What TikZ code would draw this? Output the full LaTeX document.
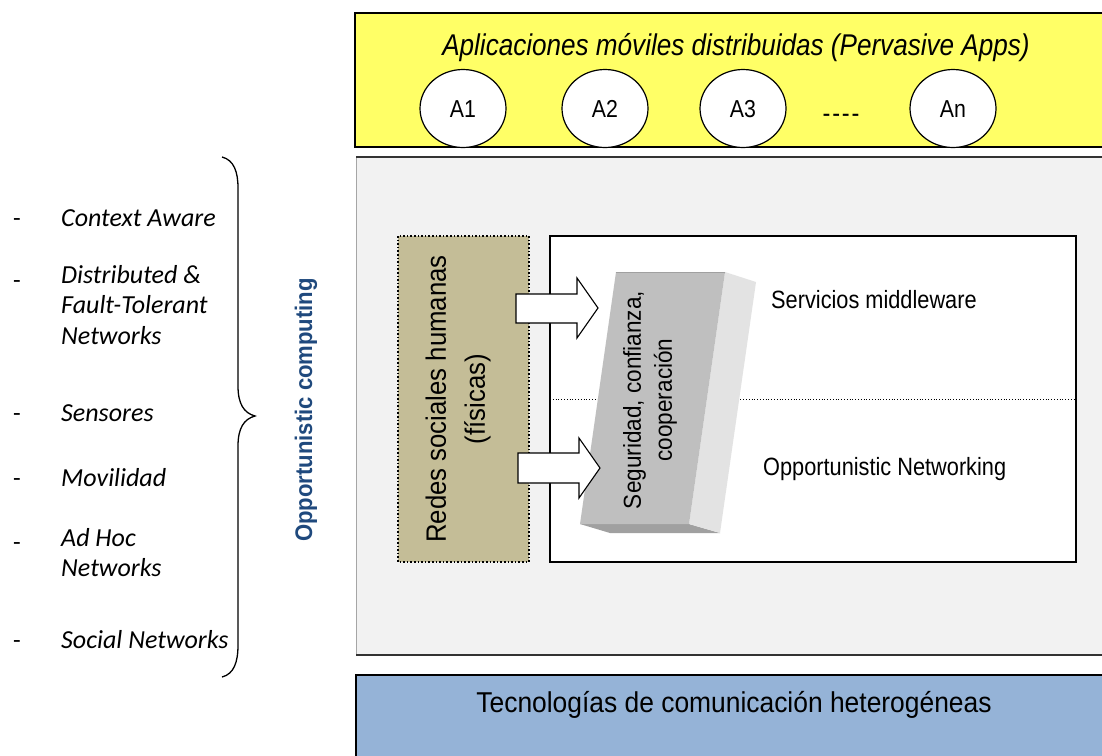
\documentclass[tikz,border=0pt]{standalone}
\usepackage{fontspec}
\setmainfont{Liberation Sans}
\newfontfamily\calfont{Carlito}
\newfontfamily\nsf[FakeStretch=0.87]{Liberation Sans}
\newfontfamily\msf[FakeStretch=0.92]{Liberation Sans}
\definecolor{appyellow}{RGB}{255,255,102}
\definecolor{panelgray}{RGB}{242,242,242}
\definecolor{socialtan}{RGB}{196,189,151}
\definecolor{techblue}{RGB}{149,179,215}
\definecolor{oppblue}{RGB}{31,73,125}
\definecolor{blockfront}{RGB}{191,191,191}
\definecolor{blockside}{RGB}{227,227,227}
\definecolor{blockbottom}{RGB}{160,160,160}
\usetikzlibrary{shapes.geometric}
\tikzset{
  app/.style={draw=black, line width=1.2pt, fill=white, ellipse, minimum width=86pt, minimum height=78pt, inner sep=0pt, text height=17.5pt, text depth=0pt, font=\nsf\fontsize{24.5}{26}\selectfont},
  listitem/.style={anchor=base west, inner sep=0pt, font=\calfont\itshape\fontsize{26}{30.5}\selectfont, align=left},
  listdash/.style={anchor=base west, inner sep=0pt, font=\calfont\fontsize{25}{30}\selectfont},
  label/.style={inner sep=0pt, font=\nsf\fontsize{25}{28}\selectfont},
  blockarrow/.style={draw=black, line width=1.1pt, fill=white, line join=miter},
}
\begin{document}
\begin{tikzpicture}[x=1pt, y=-1pt]
\useasboundingbox (0,0) rectangle (1102,755);
\clip (0,0) rectangle (1102,755);

% top layer: distributed mobile applications
\draw[fill=appyellow, line width=1.3pt] (355,13) rectangle (1115,147);
\node[inner sep=0pt, anchor=base, font=\nsf\itshape\fontsize{30}{34}\selectfont] (apptitle) at (736,55) {Aplicaciones móviles distribuidas (Pervasive Apps)};
\node[app] (a1) at (463,108.5) {A1};
\node[app] (a2) at (605,108.5) {A2};
\node[app] (a3) at (743,108.5) {A3};
\node[inner sep=0pt, anchor=base, font=\nsf\fontsize{27}{28}\selectfont] (adots) at (841,122) {-\kern1.8pt-\kern1.8pt-\kern1.8pt-};
\node[app] (an) at (953,108.5) {An};

% middle panel
\fill[panelgray] (356,157) rectangle (1115,655);
\draw[gray!70, line width=0.6pt] (356,157) -- (356,655);
\draw[black!80, line width=1.4pt] (356,157) -- (1115,157);
\draw[black!80, line width=1.4pt] (356,655) -- (1115,655);

% middleware / networking box
\draw[fill=white, line width=1.1pt] (550,236) rectangle (1076,562);
\draw[dotted, line width=0.8pt] (550,399) -- (1076,399);
\node[label, anchor=base west] (middleware) at (771,308) {Servicios middleware};
\node[label, anchor=base west] (oppnet) at (763,475) {Opportunistic Networking};

% human social networks
\draw[fill=socialtan, dotted, line width=1.6pt] (398,236) rectangle (529,562);
\node[inner sep=0pt, rotate=90, align=center, font=\msf\fontsize{28}{39}\selectfont] (redes) at (458,399) {Redes sociales humanas\\(físicas)};

% security / trust block
\fill[blockbottom] (580,524) -- (689,524) -- (720,533) -- (610,533) -- cycle;
\fill[blockside] (725,272) -- (756,282) -- (720,533) -- (689,524) -- cycle;
\fill[blockfront] (616,272) -- (725,272) -- (689,524) -- (580,524) -- cycle;
\draw[blockbottom, line width=1pt] (616,272) -- (725,272);
\node[inner sep=0pt, rotate=90, align=center, font=\msf\fontsize{24.5}{31}\selectfont] (security) at (650,400) {Seguridad, confianza,\\cooperación};

% block arrows into the middleware layers
\draw[blockarrow] (516,294) -- (577,294) -- (577,278) -- (598,308) -- (577,338) -- (577,323) -- (516,323) -- cycle;
\draw[blockarrow] (518,453) -- (579,453) -- (579,438) -- (600,468) -- (579,498) -- (579,483) -- (518,483) -- cycle;

% bottom layer
\draw[fill=techblue, line width=1.3pt] (356,675) rectangle (1115,770);
\node[inner sep=0pt, anchor=base, font=\msf\fontsize{28.7}{32}\selectfont] (tech) at (734,712) {Tecnologías de comunicación heterogéneas};

% enabling topics
\node[listdash] (d1) at (13,226) {-};
\node[listitem] (t1) at (61,226) {Context Aware};
\node[listdash] (d2) at (13,288) {-};
\node[listitem, anchor=north west] (t2) at (61,265) {Distributed \&\\Fault-Tolerant\\Networks};
\node[listdash] (d3) at (13,421) {-};
\node[listitem] (t3) at (61,421) {Sensores};
\node[listdash] (d4) at (13,486) {-};
\node[listitem] (t4) at (61,486) {Movilidad};
\node[listdash] (d5) at (13,550) {-};
\node[listitem, anchor=north west] (t5) at (61,528) {Ad Hoc\\Networks};
\node[listdash] (d6) at (13,648) {-};
\node[listitem] (t6) at (61,648) {Social Networks};

% brace grouping the topics
\coordinate (bracetop) at (222,157);
\coordinate (bracetip) at (255,416);
\coordinate (bracebottom) at (222,677);
\draw[line width=1.3pt] (bracetop) .. controls (234,160) and (238,172) .. (238,188) -- (238,386)
  .. controls (238,404) and (244,413) .. (bracetip)
  .. controls (244,419) and (238,428) .. (238,446) -- (238,645)
  .. controls (238,662) and (234,674) .. (bracebottom);

\node[inner sep=0pt, rotate=90, text=oppblue, font=\msf\bfseries\fontsize{24}{26}\selectfont] (oppcomp) at (306,410) {Opportunistic computing};
\end{tikzpicture}
\end{document}
